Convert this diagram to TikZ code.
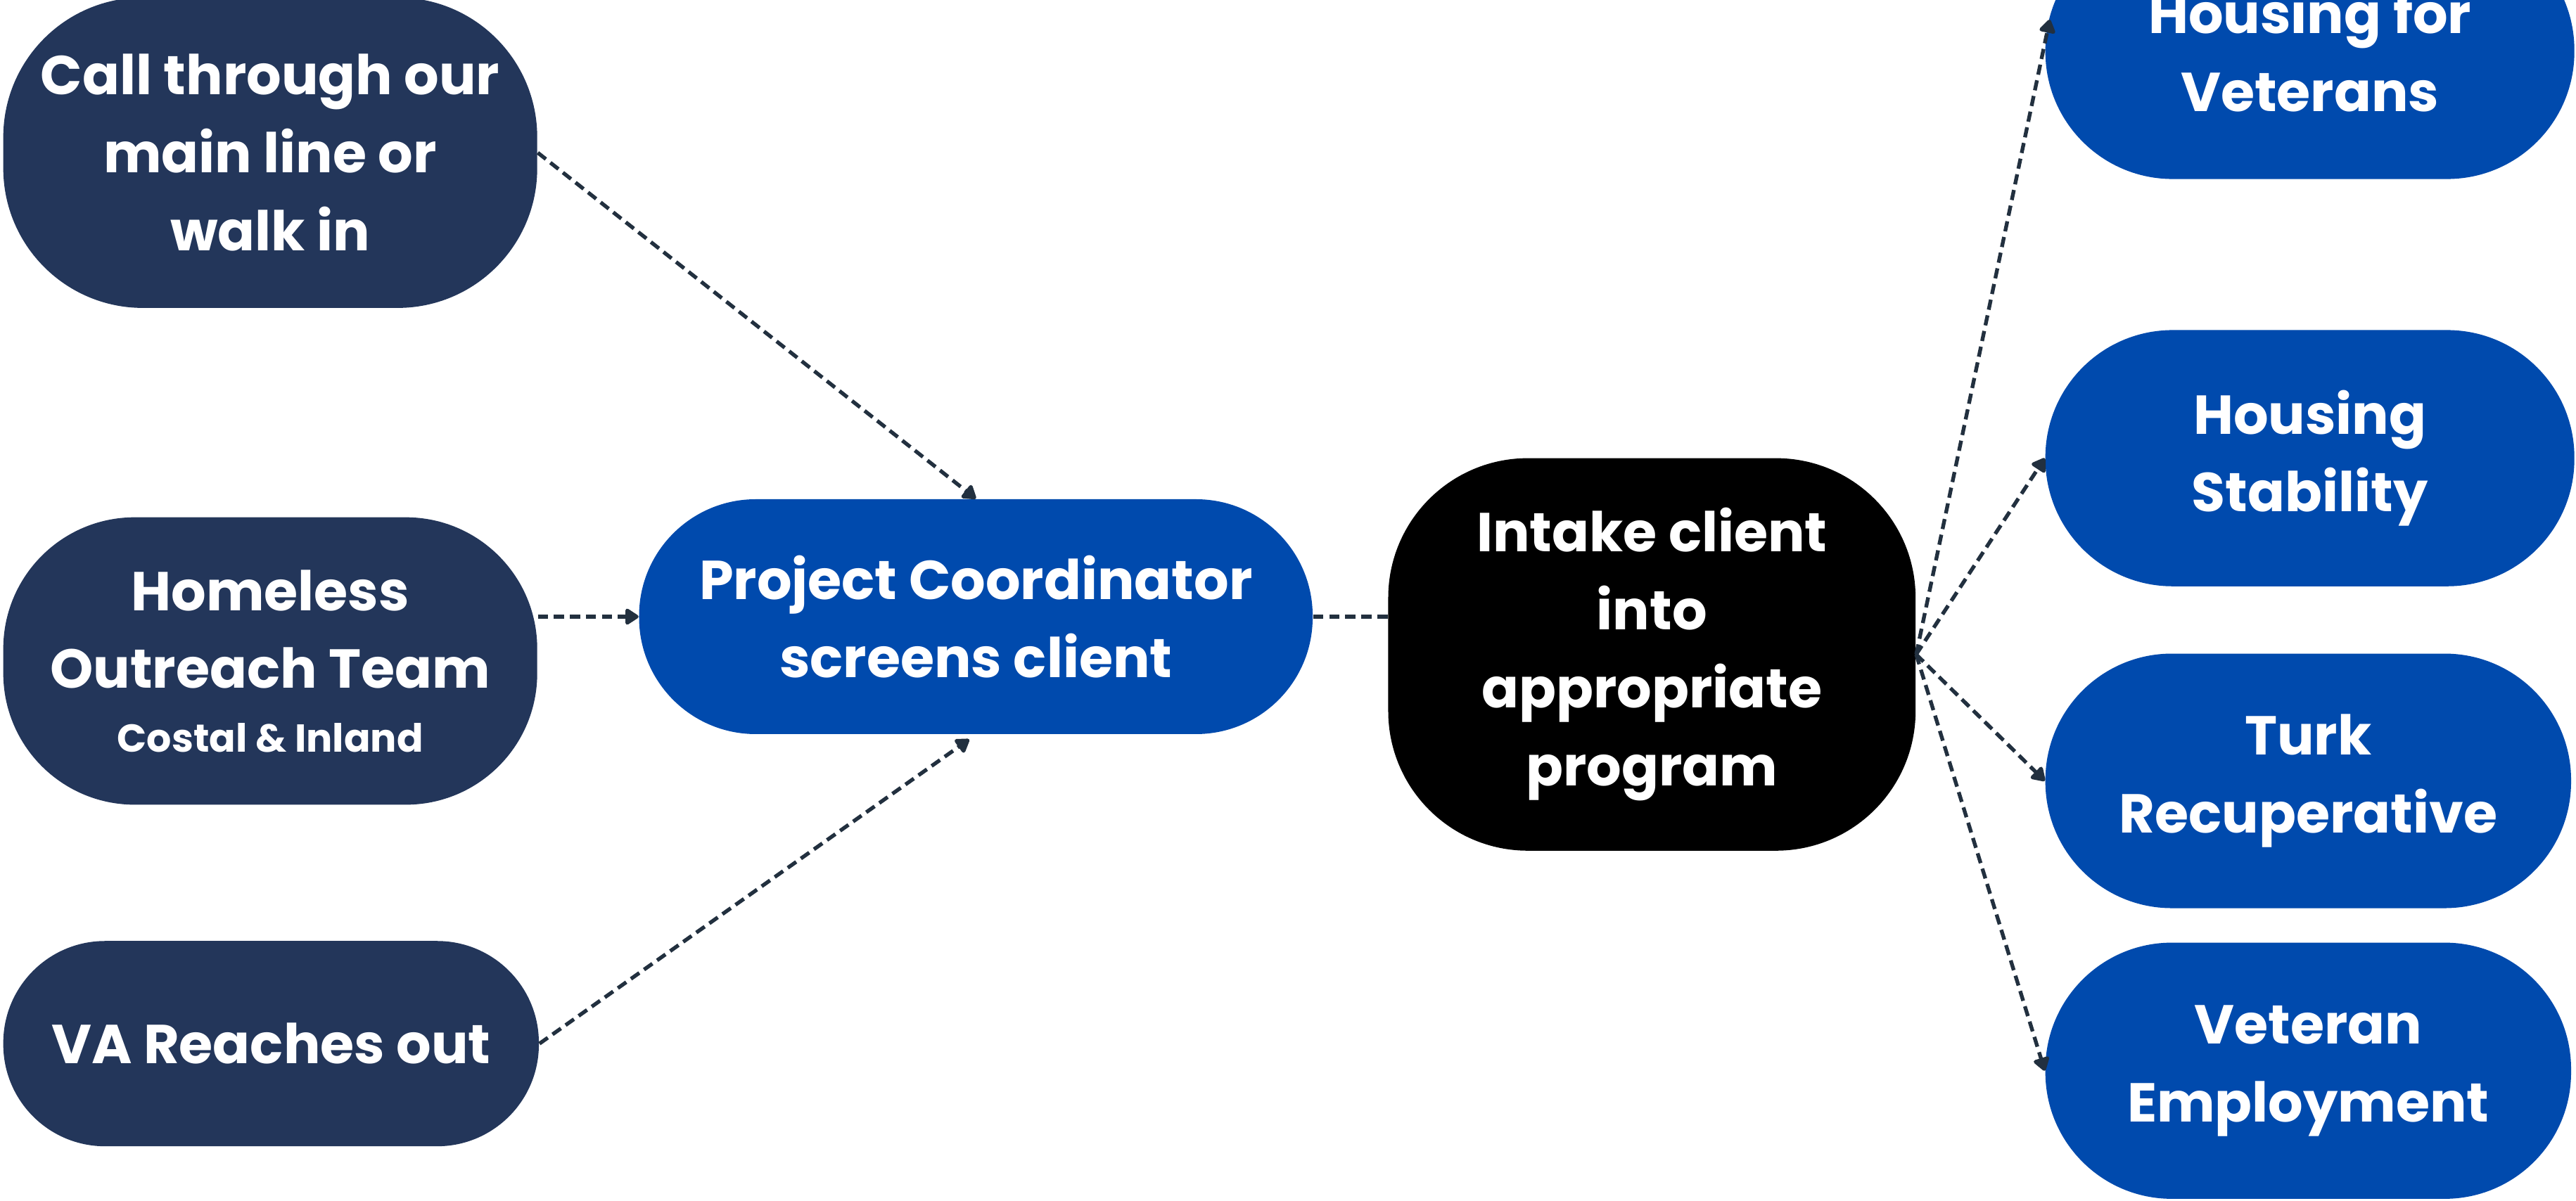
\documentclass[tikz,border=0pt]{standalone}
\usepackage{fontspec}
\setmainfont{Poppins}
\usetikzlibrary{arrows.meta,calc}

\definecolor{navybox}{RGB}{35,54,90}
\definecolor{bluebox}{RGB}{0,74,173}
\definecolor{linegray}{RGB}{34,48,63}

\tikzset{
	pill/.style={text=white, inner sep=0pt, align=center, font=\bfseries\fontsize{19}{27}\selectfont},
	flow/.style={linegray, line width=0.46mm, dash pattern=on 1.25mm off 0.7mm, -{Triangle[length=1.8mm,width=2.2mm,round]}},
}

\begin{document}
\begin{tikzpicture}[x=0.2mm, y=-0.2mm]
			%%%%% START %%%%%
			
			\fill[white] (0, 0) rectangle (1568, 731);
			\useasboundingbox (0, 0) rectangle (1568, 731);
			\clip (0, 0) rectangle (1568, 731);
			
			% ways in
			\node[pill, fill=navybox, minimum width=65mm, minimum height=37.8mm, rounded corners=17mm] (call) at (164.5, 93) {Call through our\\main line or\\walk in};
			\node[pill, fill=navybox, minimum width=65mm, minimum height=35mm, rounded corners=16mm] (outreach) at (164.5, 402.5) {Homeless\\Outreach Team\\[-5pt]{\fontsize{13.5}{16}\selectfont Costal \& Inland}};
			\node[pill, fill=navybox, minimum width=65.2mm, minimum height=25mm, rounded corners=12.4mm] (va) at (165, 635.5) {VA Reaches out};
			
			% screening and intake
			\node[pill, fill=bluebox, minimum width=82mm, minimum height=28.6mm, rounded corners=14.2mm] (coord) at (594, 375.5) {Project Coordinator\\screens client};
			\node[pill, fill=black, minimum width=64.2mm, minimum height=47.8mm, rounded corners=17mm] (intake) at (1005.5, 398.5) {Intake client\\into\\appropriate\\program};
			
			% programs
			\node[pill, fill=bluebox, minimum width=64.4mm, minimum height=31.2mm, rounded corners=15.5mm] (hfv) at (1406, 31) {Housing for\\Veterans};
			\node[pill, fill=bluebox, minimum width=64.4mm, minimum height=31.2mm, rounded corners=15.5mm] (stab) at (1406, 279) {Housing\\Stability};
			\node[pill, fill=bluebox, minimum width=64mm, minimum height=31mm, rounded corners=15.4mm] (turk) at (1405, 475.5) {Turk\\Recuperative};
			\node[pill, fill=bluebox, minimum width=64mm, minimum height=31.2mm, rounded corners=15.4mm] (employ) at (1405, 652) {Veteran\\Employment};
			
			% connectors
			\draw[flow] (call.east) -- (coord.north);
			\draw[flow] (outreach.east |- coord.west) -- (coord.west);
			\draw[flow, shorten >=1mm] (va.east) -- (coord.south);
			\draw[flow, -] (coord.east) -- (coord.east -| intake.west);
			
			\draw[flow] (intake.east) -- ($(hfv.west)+(3,-19)$);
			\draw[flow] (intake.east) -- (stab.west);
			\draw[flow] (intake.east) -- (turk.west);
			\draw[flow] (intake.east) -- (employ.west);
			
			%%%%% END %%%%%
\end{tikzpicture}
\end{document}
